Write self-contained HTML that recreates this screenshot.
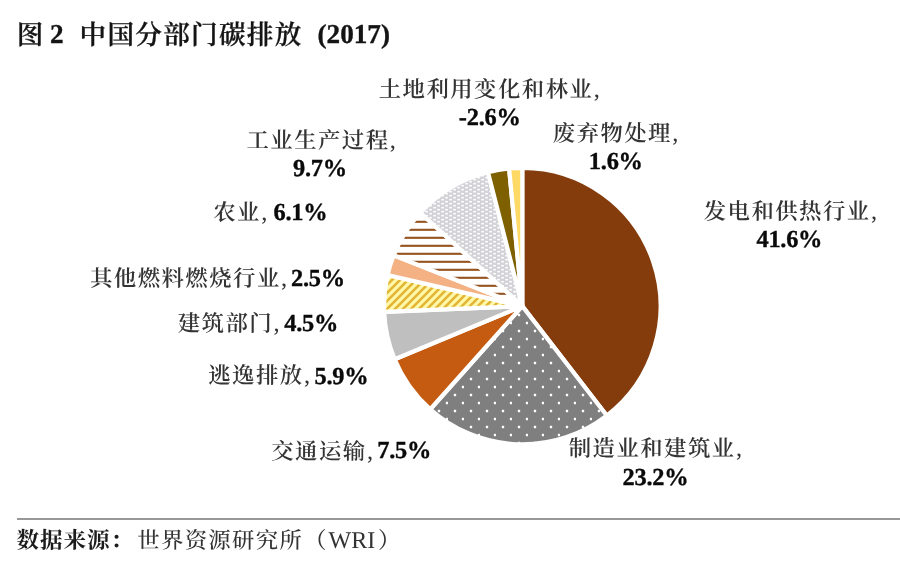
<!DOCTYPE html>
<html lang="zh-CN">
<head>
<meta charset="utf-8">
<title>图 2 中国分部门碳排放 (2017)</title>
<style>
  html, body { margin: 0; padding: 0; background: #ffffff; }
  body { width: 900px; height: 565px; position: relative; overflow: hidden;
         font-family: "Liberation Serif", "Noto Serif CJK SC", serif; color: #3a3a3a;
         text-rendering: geometricPrecision; }
  .t { position: absolute; white-space: nowrap; line-height: 1; }
  .title { font-size: 27.2px; font-weight: bold; color: #141414; -webkit-text-stroke: 0.35px #141414; }
  .title.zhs { font-size: 26.6px; font-weight: 600; -webkit-text-stroke: 0.3px #141414; letter-spacing: 1.3px; }
  .lab { font-size: 24.4px; color: #343434; }
  .lab b { color: #0a0a0a; -webkit-text-stroke: 0.35px #0a0a0a; font-weight: bold; font-size: 24.4px; letter-spacing: -0.25px; }
  .lab .zh { font-weight: 600; font-size: 22.4px; letter-spacing: 1.45px; margin-right: 0.3px; }
  .rule { position: absolute; left: 17px; top: 518.2px; width: 883px; height: 2px; background: #989898; }
  .src { font-size: 24px; color: #333333; }
  .src b { color: #1c1c1c; }
  .src .zhb { font-weight: 700; font-size: 22.6px; letter-spacing: 0.9px; }
  .src .zhf { font-weight: 500; font-size: 22.4px; letter-spacing: 1.3px; }
  svg { position: absolute; left: 0; top: 0; }
</style>
</head>
<body>
  <svg id="pie" width="900" height="565" viewBox="0 0 900 565">
    <defs>
      <pattern id="pDots" width="16" height="16" patternUnits="userSpaceOnUse">
        <rect width="16" height="16" fill="#7F7F7F"/>
        <rect x="5.8" y="9.8" width="2.4" height="2.4" rx="0.6" fill="#ffffff"/>
        <rect x="13.8" y="1.8" width="2.4" height="2.4" rx="0.6" fill="#ffffff"/>
      </pattern>
      <pattern id="pDiag" width="8" height="8" patternUnits="userSpaceOnUse">
        <rect width="8" height="8" fill="#FFF8A8"/>
        <path d="M-2 2L2 -2M-2 10L10 -2M6 10L10 6" stroke="#E3B534" stroke-width="2.6" fill="none"/>
      </pattern>
      <pattern id="pHorz" width="8" height="8" patternUnits="userSpaceOnUse">
        <rect width="8" height="8" fill="#ffffff"/>
        <rect x="0" y="4.75" width="8" height="2.1" fill="#96531F"/>
      </pattern>
      <pattern id="pLight" width="8" height="4" patternUnits="userSpaceOnUse">
        <rect width="8" height="4" fill="#D2D2D7"/>
        <ellipse cx="6.6" cy="1.7" rx="1.55" ry="0.9" fill="#ffffff"/>
        <ellipse cx="2.6" cy="3.7" rx="1.55" ry="0.9" fill="#ffffff"/>
        <ellipse cx="2.6" cy="-0.3" rx="1.55" ry="0.9" fill="#ffffff"/>
      </pattern>
    </defs>
    <g stroke="#ffffff" stroke-width="4.2" stroke-linejoin="round">
      <path d="M522.30 306.10L522.30 167.85A138.25 138.25 0 0 1 606.73 415.57Z" fill="#843C0C"/>
      <path d="M522.30 306.10L606.73 415.57A138.25 138.25 0 0 1 430.24 409.24Z" fill="url(#pDots)"/>
      <path d="M522.30 306.10L430.24 409.24A138.25 138.25 0 0 1 394.65 359.20Z" fill="#C55A11"/>
      <path d="M522.30 306.10L394.65 359.20A138.25 138.25 0 0 1 384.17 311.88Z" fill="#BFBFBF"/>
      <path d="M522.30 306.10L384.17 311.88A138.25 138.25 0 0 1 387.60 274.99Z" fill="url(#pDiag)"/>
      <path d="M522.30 306.10L387.60 274.99A138.25 138.25 0 0 1 393.72 255.30Z" fill="#F4B183"/>
      <path d="M522.30 306.10L393.72 255.30A138.25 138.25 0 0 1 420.26 212.82Z" fill="url(#pHorz)"/>
      <path d="M522.30 306.10L420.26 212.82A138.25 138.25 0 0 1 487.98 172.18Z" fill="url(#pLight)"/>
      <path d="M522.30 306.10L487.98 172.18A138.25 138.25 0 0 1 509.11 168.48Z" fill="#7F6000"/>
      <path d="M522.30 306.10L509.11 168.48A138.25 138.25 0 0 1 522.30 167.85Z" fill="#FFD966"/>
    </g>
  </svg>

  <div id="t1" class="t title zhs" style="left:16.75px; top:22.00px;">图</div>
  <div id="t2" class="t title" style="left:50.00px; top:21.00px;">2</div>
  <div id="t3" class="t title zhs" style="left:79.50px; top:22.00px;">中国分部门碳排放</div>
  <div id="t4" class="t title" style="left:317.50px; top:21.00px;">(2017)</div>
  <div id="z1" class="t lab" style="left:378.75px; top:78.00px;"><span class="zh">土地利用变化和林业</span>,</div>
  <div id="b1" class="t lab" style="left:458.85px; top:106.00px;"><b>-2.6%</b></div>
  <div id="z2" class="t lab" style="left:552.75px; top:122.00px;"><span class="zh">废弃物处理</span>,</div>
  <div id="b2" class="t lab" style="left:588.85px; top:150.00px;"><b>1.6%</b></div>
  <div id="z3" class="t lab" style="left:703.75px; top:200.00px;"><span class="zh">发电和供热行业</span>,</div>
  <div id="b3" class="t lab" style="left:756.45px; top:228.00px;"><b>41.6%</b></div>
  <div id="z4" class="t lab" style="left:246.50px; top:129.00px;"><span class="zh">工业生产过程</span>,</div>
  <div id="b4" class="t lab" style="left:292.95px; top:157.00px;"><b>9.7%</b></div>
  <div id="z5" class="t lab" style="left:213.25px; top:201.00px;"><span class="zh">农业</span>,</div>
  <div id="b5" class="t lab" style="left:273.50px; top:201.00px;"><b>6.1%</b></div>
  <div id="z6" class="t lab" style="left:90.00px; top:267.00px;"><span class="zh">其他燃料燃烧行业</span>,</div>
  <div id="b6" class="t lab" style="left:291.00px; top:267.00px;"><b>2.5%</b></div>
  <div id="z7" class="t lab" style="left:177.75px; top:312.00px;"><span class="zh">建筑部门</span>,</div>
  <div id="b7" class="t lab" style="left:284.25px; top:312.00px;"><b>4.5%</b></div>
  <div id="z8" class="t lab" style="left:208.25px; top:364.00px;"><span class="zh">逃逸排放</span>,</div>
  <div id="b8" class="t lab" style="left:314.50px; top:365.00px;"><b>5.9%</b></div>
  <div id="z9" class="t lab" style="left:271.25px; top:440.00px;"><span class="zh">交通运输</span>,</div>
  <div id="b9" class="t lab" style="left:377.25px; top:439.00px;"><b>7.5%</b></div>
  <div id="z10" class="t lab" style="left:568.75px; top:437.00px;"><span class="zh">制造业和建筑业</span>,</div>
  <div id="b10" class="t lab" style="left:622.50px; top:466.00px;"><b>23.2%</b></div>
  <div id="s1" class="t src" style="left:16.50px; top:529.00px;"><b class="zhb">数据来源：</b></div>
  <div id="s2" class="t src" style="left:137.25px; top:529.00px;"><span class="zhf">世界资源研究所</span></div>
  <div id="s5" class="t src" style="left:304.00px; top:529.00px;"><span class="zhf">（</span></div>
  <div id="s3" class="t src" style="left:328.50px; top:529.00px;">WRI</div>
  <div id="s4" class="t src" style="left:378.00px; top:529.00px;"><span class="zhf">）</span></div>

  <div class="rule"></div>
</body>
</html>
